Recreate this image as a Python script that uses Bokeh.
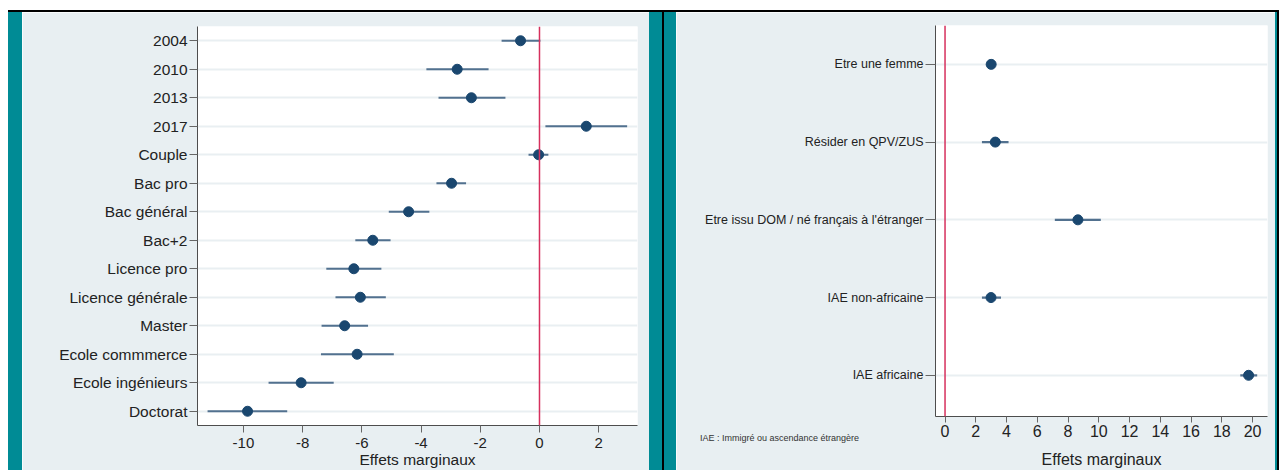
from bokeh.plotting import figure
from bokeh.layouts import row, column
from bokeh.models import Div, Range1d, FixedTicker, Span
from bokeh.embed import file_html
from bokeh.resources import INLINE

# ---------------- data ----------------
left_cats = ["2004", "2010", "2013", "2017", "Couple", "Bac pro", "Bac général",
             "Bac+2", "Licence pro", "Licence générale", "Master",
             "Ecole commmerce", "Ecole ingénieurs", "Doctorat"]
left_est = [-0.64, -2.78, -2.30, 1.58, -0.03, -2.97, -4.42, -5.63, -6.27, -6.05,
            -6.58, -6.16, -8.05, -9.86]
left_lo = [-1.28, -3.82, -3.41, 0.20, -0.37, -3.48, -5.09, -6.22, -7.20, -6.89,
           -7.36, -7.38, -9.15, -11.21]
left_hi = [0.03, -1.72, -1.15, 2.96, 0.30, -2.48, -3.72, -5.03, -5.34, -5.19,
           -5.79, -4.92, -6.95, -8.52]
left_xticks = [-10, -8, -6, -4, -2, 0, 2]
left_xlabels = ["-10", "-8", "-6", "-4", "-2", "0", "2"]

right_cats = ["Etre une femme", "Résider en QPV/ZUS",
              "Etre issu DOM / né français à l'étranger",
              "IAE non-africaine", "IAE africaine"]
right_est = [3.00, 3.27, 8.64, 2.99, 19.74]
right_lo = [2.75, 2.40, 7.14, 2.40, 19.20]
right_hi = [3.25, 4.13, 10.13, 3.64, 20.30]
right_xticks = [0, 2, 4, 6, 8, 10, 12, 14, 16, 18, 20]
right_xlabels = [str(t) for t in right_xticks]

note_text = "IAE : Immigré ou ascendance étrangère"
x_title = "Effets marginaux"

# ---------------- style ----------------
TEAL = "#008b95"
PANEL = "#e8eff2"
NAVY = "#1a476f"
CI = "#52718f"
RED = "#d6305d"
GRID = "#e9eff2"
AXIS = "#4d4d4d"
FONT = "Liberation Sans"


def style(p, yticks, ylabels, xticks, xlabels, ylab_size, xlab_size, title_size,
          ytick_out, xtick_out, xstandoff, title_standoff):
    p.outline_line_color = None
    p.background_fill_color = "white"
    p.border_fill_color = PANEL
    p.xgrid.grid_line_color = None
    p.ygrid.grid_line_color = GRID
    p.ygrid.grid_line_width = 2
    p.xaxis.ticker = FixedTicker(ticks=xticks)
    p.yaxis.ticker = FixedTicker(ticks=yticks)
    p.yaxis.major_label_overrides = {int(t): l for t, l in zip(yticks, ylabels)}
    p.xaxis.major_label_overrides = {int(t): l for t, l in zip(xticks, xlabels)}
    for ax in (p.xaxis[0], p.yaxis[0]):
        ax.axis_line_color = AXIS
        ax.axis_line_width = 1
        ax.major_tick_line_color = "#666666"
        ax.major_tick_in = 0
        ax.minor_tick_line_color = None
        ax.major_label_text_font = FONT
        ax.major_label_text_color = "#222222"
    p.yaxis.major_tick_out = ytick_out
    p.yaxis.major_label_standoff = 2
    p.xaxis.major_tick_out = xtick_out
    p.xaxis.major_label_standoff = xstandoff
    p.yaxis.major_label_text_font_size = ylab_size
    p.xaxis.major_label_text_font_size = xlab_size
    p.xaxis.axis_label = x_title
    p.xaxis.axis_label_text_font = FONT
    p.xaxis.axis_label_text_font_style = "normal"
    p.xaxis.axis_label_text_font_size = title_size
    p.xaxis.axis_label_text_color = "#222222"
    p.xaxis.axis_label_standoff = title_standoff


H = 462  # panel height (bottom few pixels fall outside the window, as in the reference)

# ---------------- left panel ----------------
ny = len(left_cats)
left_y = list(range(ny, 0, -1))
pl = figure(width=627, height=H, output_backend="svg", toolbar_location=None,
            x_range=Range1d(-11.55, 3.31), y_range=Range1d(0.5, ny + 0.5),
            min_border_left=175, min_border_right=12, min_border_top=14,
            min_border_bottom=49, margin=0)
style(pl, left_y, left_cats, left_xticks, left_xlabels, "15.5px", "15px", "15.5px",
      8, 7, 5, 0)
pl.add_layout(Span(location=0, dimension="height", line_color=RED, line_width=1.5))
pl.segment(x0=left_lo, y0=left_y, x1=left_hi, y1=left_y, line_color=CI, line_width=2.2)
pl.scatter(x=left_est, y=left_y, size=10, fill_color=NAVY, line_color=NAVY)

# ---------------- right panel ----------------
nr = len(right_cats)
right_y = list(range(nr, 0, -1))
pr = figure(width=599, height=H, output_backend="svg", toolbar_location=None,
            x_range=Range1d(-0.62, 20.97), y_range=Range1d(0.47, nr + 0.5),
            min_border_left=259, min_border_right=8, min_border_top=13,
            min_border_bottom=58, margin=0)
style(pr, right_y, right_cats, right_xticks, right_xlabels, "12.5px", "16px", "16px",
      10, 6, 2, 11)
pr.add_layout(Span(location=0, dimension="height", line_color=RED, line_width=1.5))
pr.segment(x0=right_lo, y0=right_y, x1=right_hi, y1=right_y, line_color=CI, line_width=2.2)
pr.scatter(x=right_est, y=right_y, size=10, fill_color=NAVY, line_color=NAVY)

note = Div(text=note_text, width=200, height=12, margin=(-42, 0, 0, 24),
           styles={"font-family": FONT, "font-size": "9px", "color": "#333333",
                   "line-height": "12px", "white-space": "nowrap",
                   "position": "relative", "z-index": "5"})
right_col = column(pr, note, spacing=0, margin=0)


def strip(w, color, h=H):
    return Div(width=w, height=h, margin=0, styles={"background-color": color})


panels = row(strip(14, TEAL), pl, strip(13, TEAL), strip(2, "#000000"), strip(12, TEAL),
             right_col, strip(2, TEAL), strip(2, "#000000"), spacing=0, margin=0)
inner = column(Div(width=1271, height=2, margin=0, styles={"background-color": "#000000"}),
               panels, spacing=0, margin=0)
layout = column(Div(width=1279, height=10, margin=0),
                row(Div(width=8, height=H + 2, margin=0), inner, spacing=0, margin=0),
                spacing=0, margin=0, width=1279, height=470,
                styles={"overflow": "hidden"})

open("out.html", "w").write(file_html(layout, INLINE))
